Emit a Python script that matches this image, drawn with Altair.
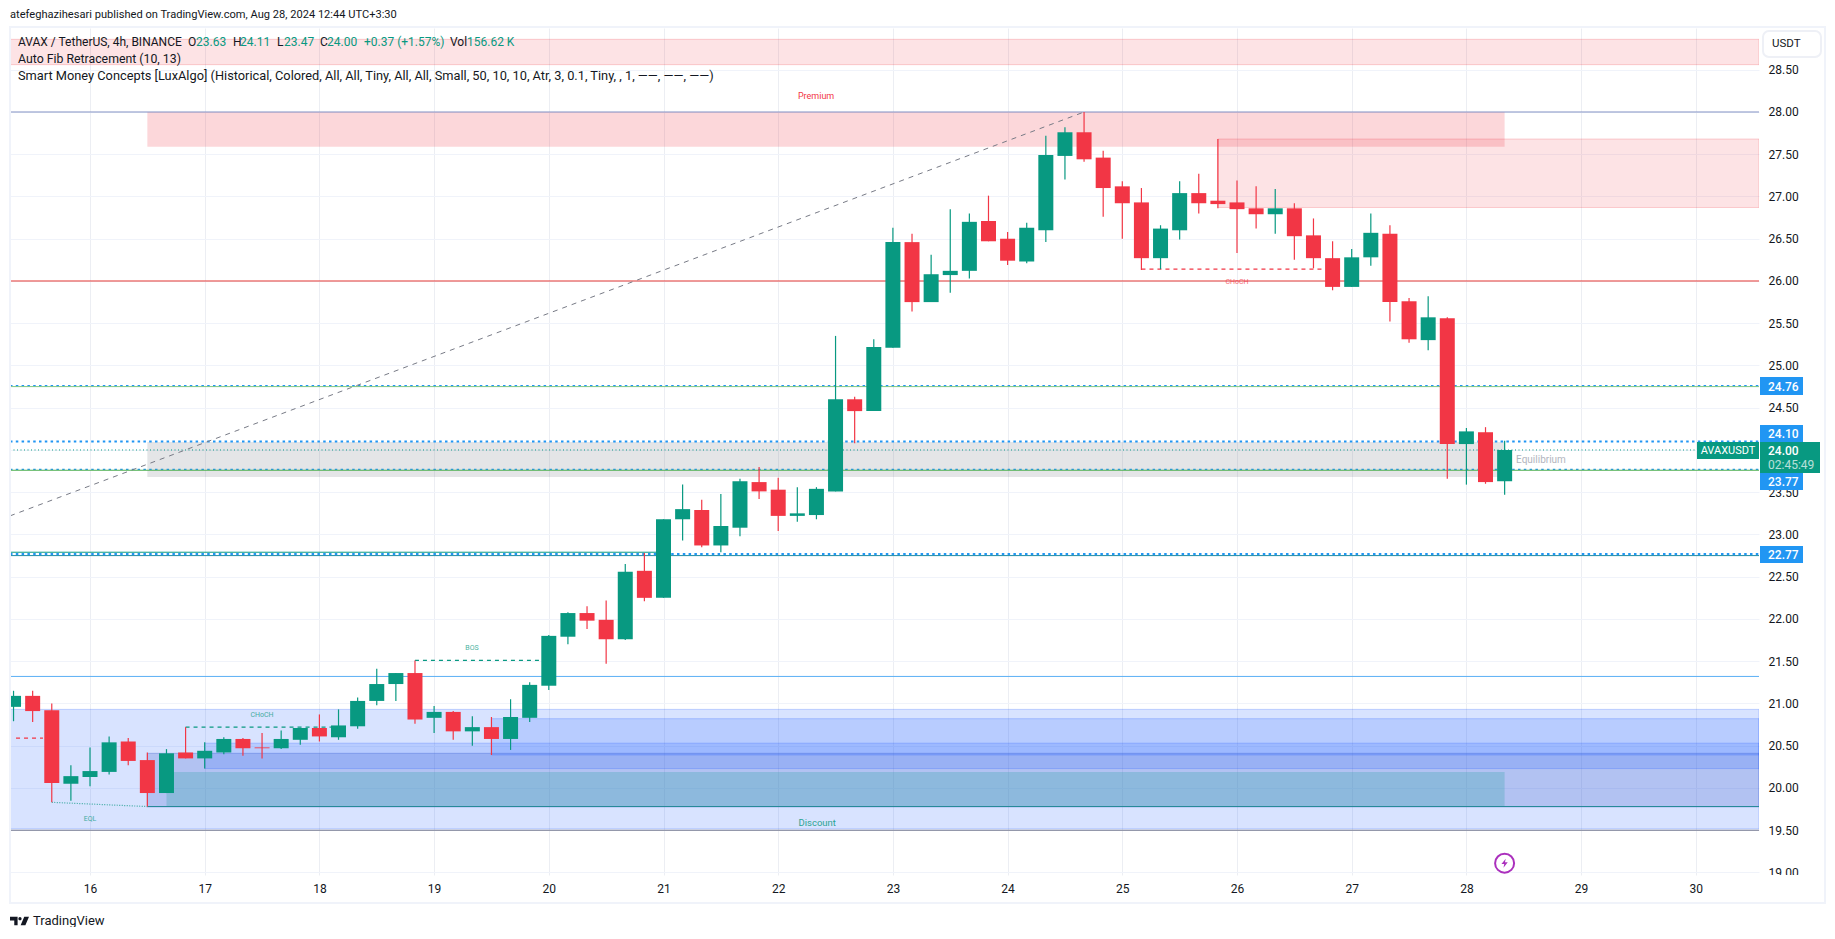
import altair as alt
import pandas as pd

# ---- OHLC (4h bars, first bar at day 15 + 1/3) ----
OPEN = [20.96,21.09,20.92,20.05,20.13,20.19,20.55,20.33,19.94,20.42,20.35,20.42,20.58,20.48,20.47,20.57,20.71,20.60,20.73,21.03,
        21.23,21.36,20.83,20.90,20.67,20.72,20.58,20.83,21.21,21.79,22.07,21.99,21.76,22.57,22.25,23.18,23.29,22.87,23.08,23.62,
        23.53,23.22,23.23,23.51,24.60,24.46,25.21,26.46,25.75,26.07,26.12,26.71,26.50,26.23,26.60,27.48,27.76,27.46,27.12,26.93,
        26.27,26.60,27.04,26.95,26.93,26.86,26.79,26.86,26.54,26.27,25.93,26.28,26.56,25.76,25.30,25.56,24.07,24.21,23.63]
HIGH = [21.15,21.15,21.00,20.27,20.48,20.61,20.59,20.42,20.46,20.72,20.54,20.60,20.59,20.65,20.68,20.71,20.87,20.93,21.07,21.41,
        21.36,21.51,20.97,20.91,20.85,20.84,21.05,21.25,21.81,22.08,22.15,22.22,22.65,22.78,23.18,23.59,23.41,23.48,23.66,23.80,
        23.67,23.56,23.56,25.35,24.63,25.31,26.63,26.56,26.31,26.85,26.80,27.01,26.58,26.69,27.72,27.82,28.00,27.54,27.18,27.10,
        26.66,27.18,27.27,27.68,27.19,27.12,27.09,26.92,26.74,26.47,26.38,26.80,26.66,25.80,25.82,25.57,24.26,24.27,24.11]
LOW = [20.79,20.78,19.83,19.85,20.02,20.16,20.27,19.78,19.94,20.35,20.23,20.40,20.38,20.35,20.46,20.51,20.55,20.57,20.70,20.98,
       21.03,20.76,20.65,20.57,20.50,20.39,20.45,20.78,21.16,21.70,21.88,21.47,21.75,22.21,22.25,22.93,22.85,22.79,22.98,23.42,
       23.04,23.15,23.18,23.51,24.08,24.46,25.21,25.64,25.75,25.86,26.03,26.47,26.19,26.21,26.46,27.20,27.41,26.76,26.50,26.13,
       26.14,26.49,26.80,26.86,26.33,26.62,26.56,26.25,26.15,25.89,25.93,26.18,25.52,25.27,25.18,23.66,23.59,23.60,23.47]
CLOSE = [21.09,20.91,20.06,20.14,20.20,20.54,20.32,19.94,20.41,20.35,20.44,20.58,20.47,20.47,20.58,20.71,20.61,20.74,21.03,21.23,
         21.36,20.81,20.90,20.67,20.72,20.58,20.84,21.22,21.80,22.07,21.98,21.76,22.56,22.25,23.18,23.30,22.87,23.10,23.63,23.51,
         23.22,23.25,23.54,24.60,24.46,25.22,26.46,25.75,26.08,26.12,26.70,26.47,26.24,26.63,27.49,27.76,27.44,27.10,26.92,26.27,
         26.62,27.04,26.92,26.91,26.85,26.79,26.86,26.53,26.27,25.93,26.28,26.57,25.75,25.31,25.57,24.07,24.22,23.62,24.00]
BARS_PER_DAY = 6
FIRST_DAY = 15 + 1 / 3

DAY_TICKS = list(range(16, 31))
PRICE_TICKS = [19 + 0.5 * i for i in range(20)]

X_MIN, X_MAX = 15.3025, 30.551
Y_MIN, Y_MAX = 18.97, 28.994

# zones: day from, day to, price top, price bottom
TOP_BAND = [X_MIN, X_MAX, 28.86, 28.56]
SUPPLY = [25.833, X_MAX, 27.68, 26.87]
PREMIUM = [16.5, 28.333, 28.00, 27.59]
EQUILIBRIUM = [16.5, 28.333, 24.095, 23.68]
DISCOUNT = [X_MIN, X_MAX, 20.93, 19.515]
BLOCK_A = [16.5, X_MAX, 20.41, 19.775]
BLOCK_B = [17.0, X_MAX, 20.53, 20.23]
BLOCK_C = [19.5, X_MAX, 20.82, 20.39]
BLOCK_D = [16.667, 28.333, 20.19, 19.775]

TREND_X = [X_MIN, 24.667]
TREND_Y = [23.22, 28.00]
EQL_X = [15.667, 16.5]
EQL_Y = [19.83, 19.78]

GREEN, RED, BLUE = "#089981", "#f23645", "#2196f3"
TEXT = "#131722"
FONT = "Roboto"

df = pd.DataFrame({"o": OPEN, "h": HIGH, "l": LOW, "c": CLOSE})
df["day"] = [FIRST_DAY + i / BARS_PER_DAY for i in range(len(df))]
df["dir"] = ["up" if c >= o else "down" for o, c in zip(OPEN, CLOSE)]

xs = alt.Scale(domain=[X_MIN, X_MAX], nice=False, zero=False, padding=0)
ys = alt.Scale(domain=[Y_MIN, Y_MAX], nice=False, zero=False, padding=0)
col = alt.Color("dir:N", scale=alt.Scale(domain=["up", "down"], range=[GREEN, RED]), legend=None)

x_axis = alt.Axis(values=DAY_TICKS, format="d", orient="bottom", grid=True, gridColor="#eceef3", gridWidth=1,
                  domain=False, ticks=False, labelFont=FONT, labelFontSize=12, labelColor=TEXT, labelPadding=8,
                  title=None, labelFlush=False, labelOverlap=False)
y_axis = alt.Axis(values=PRICE_TICKS, format=".2f", orient="right", grid=True, gridColor="#f0f3fa", gridWidth=1,
                  domain=False, ticks=False, labelFont=FONT, labelFontSize=12, labelColor=TEXT, labelPadding=9,
                  title=None, labelFlush=False, labelOverlap=False)


def X(f):
    return alt.X(f, type="quantitative", scale=xs, axis=x_axis)


def Y(f):
    return alt.Y(f, type="quantitative", scale=ys, axis=y_axis)


def zone(z, fill, op, stroke=True):
    d = pd.DataFrame({"a": [z[0]], "b": [z[1]], "t": [z[2]], "u": [z[3]]})
    kw = dict(stroke=fill, strokeOpacity=min(op + 0.08, 1), strokeWidth=1) if stroke else {}
    return alt.Chart(d).mark_rect(fill=fill, fillOpacity=op, clip=True, **kw).encode(
        x=X("a"), x2="b", y=Y("t"), y2="u")


def hline(p, a, b, color, width=1.0, dash=None, op=1.0):
    d = pd.DataFrame({"a": [a], "b": [b], "p": [p]})
    kw = {"strokeDash": dash} if dash else {}
    return alt.Chart(d).mark_rule(color=color, strokeWidth=width, opacity=op, clip=True, **kw).encode(
        x=X("a"), x2="b", y=Y("p"))


def seg(xv, yv, color, width, dash):
    d = pd.DataFrame({"x": xv, "y": yv})
    return alt.Chart(d).mark_line(color=color, strokeWidth=width, strokeDash=dash, clip=True).encode(
        x=X("x"), y=Y("y"))


def note(txt, day, price, color, size, op=1.0, align="center"):
    d = pd.DataFrame({"x": [day], "y": [price], "t": [txt]})
    return alt.Chart(d).mark_text(color=color, fontSize=size, font=FONT, align=align, baseline="middle", opacity=op).encode(
        x=X("x"), y=Y("y"), text="t:N")


OX, OY = 10, 28  # page position of the plot area


def pagetext(txt, px, py, color=TEXT, size=12, align="left", weight="normal", op=1.0):
    d = pd.DataFrame({"t": [txt]})
    return alt.Chart(d).mark_text(color=color, fontSize=size, font=FONT, align=align, baseline="middle",
                                  fontWeight=weight, opacity=op).encode(
        x=alt.value(px - OX), y=alt.value(py - OY), text="t:N")


def pagerect(x0, x1, y0, y1, fill, **kw):
    return alt.Chart(pd.DataFrame({"k": [1]})).mark_rect(fill=fill, **kw).encode(
        x=alt.value(x0 - OX), x2=alt.value(x1 - OX), y=alt.value(y0 - OY), y2=alt.value(y1 - OY))


wicks = alt.Chart(df).mark_rule(strokeWidth=1.2, clip=True).encode(x=X("day"), y=Y("l"), y2="h:Q", color=col)
bodies = alt.Chart(df).mark_bar(width=15, clip=True).encode(x=X("day"), y=Y("o"), y2="c", color=col)

layers = [
    zone(TOP_BAND, RED, 0.14),
    zone(SUPPLY, RED, 0.14),
    zone(PREMIUM, RED, 0.2, stroke=False),
    zone(EQUILIBRIUM, "#787b86", 0.2, stroke=False),
    zone(DISCOUNT, "#2962ff", 0.18),
    zone(BLOCK_A, "#3e5fcd", 0.25),
    zone(BLOCK_B, "#2962ff", 0.18),
    zone(BLOCK_C, "#2962ff", 0.18),
    zone(BLOCK_D, "#38a4ab", 0.3, stroke=False),
    hline(28.0, X_MIN, X_MAX, "#8492c4"),
    hline(26.0, X_MIN, X_MAX, "#e53935"),
    hline(24.76, X_MIN, X_MAX, BLUE, 1.4, [2.5, 3.3]),
    hline(24.75, X_MIN, X_MAX, "#81c784"),
    hline(24.10, X_MIN, X_MAX, BLUE, 2, [2.5, 3.3]),
    hline(24.00, X_MIN, X_MAX, GREEN, 1, [1, 2.5]),
    hline(23.77, X_MIN, X_MAX, BLUE, 1.4, [2.5, 3.3]),
    hline(23.76, X_MIN, X_MAX, "#4caf50"),
    hline(22.79, X_MIN, 21.0, GREEN),
    hline(22.75, X_MIN, X_MAX, "#1d8aa5"),
    hline(22.77, X_MIN, X_MAX, BLUE, 2, [2.5, 3.3]),
    hline(21.32, X_MIN, X_MAX, "#5ab0f5"),
    hline(19.5, X_MIN, X_MAX, "#767a90", 1.1),
    hline(19.78, 16.5, X_MAX, "#268a99", 1.1),
    hline(20.59, 15.355, 15.59, RED, 1.2, [4, 4]),
    hline(20.72, 16.833, 18.1, GREEN, 1.2, [4, 4]),
    hline(21.51, 18.833, 19.92, GREEN, 1.2, [4, 4]),
    hline(26.14, 25.167, 26.74, RED, 1.2, [4, 4]),
    seg(TREND_X, TREND_Y, "#787b86", 1, [5, 5]),
    seg(EQL_X, EQL_Y, "#3aa9a0", 1.2, [1, 1.5]),
    wicks,
    bodies,
    note("Premium", 22.33, 28.19, RED, 9),
    note("Discount", 22.34, 19.59, GREEN, 9.5, 0.85),
    note("Equilibrium", 28.65, 23.88, "#b2b5be", 10, 1.0),
    note("EQL", 16.0, 19.63, GREEN, 7, 0.75),
    note("CHoCH", 17.5, 20.86, GREEN, 7, 0.75),
    note("BOS", 19.33, 21.66, GREEN, 7, 0.75),
    note("CHoCH", 26.0, 25.99, RED, 7, 0.75),
]

# lightning marker
mark_df = pd.DataFrame({"x": [28.333], "y": [19.11]})
layers.append(alt.Chart(mark_df).mark_point(shape="circle", filled=False, color="#ab30bd", strokeWidth=2, size=361, opacity=1)
              .encode(x=X("x"), y=Y("y")))
layers.append(alt.Chart(mark_df).mark_point(shape="M0.25,-1 L-0.7,0.2 L-0.08,0.2 L-0.25,1 L0.7,-0.2 L0.08,-0.2 Z",
                                            filled=True, color="#ab30bd", size=81, opacity=1, strokeWidth=0)
              .encode(x=X("x"), y=Y("y")))

# cover for the clipped bottom axis label
layers.append(pagerect(1760, 1800, 875, 882, "#ffffff"))

# price scale tags
for txt, y0, y1 in [("24.76", 377, 395), ("24.10", 425, 442), ("23.77", 473, 490), ("22.77", 546, 563)]:
    layers.append(pagerect(1760, 1803, y0, y1, BLUE))
    layers.append(pagetext(txt, 1768, (y0 + y1) / 2 + 0.5, "#ffffff", 12, weight=500))
layers.append(pagerect(1760, 1820, 442, 473, GREEN))
layers.append(pagetext("24.00", 1768, 451, "#ffffff", 12, weight=500))
layers.append(pagetext("02:45:49", 1768, 465, "#ffffff", 12, op=0.7))
layers.append(pagerect(1697, 1759, 442, 459, GREEN))
layers.append(pagetext("AVAXUSDT", 1728, 450.5, "#ffffff", 11, align="center"))

# currency button
layers.append(pagerect(1763, 1821, 31, 57, "#ffffff", stroke="#eef0f6", strokeWidth=2, cornerRadius=6))
layers.append(pagetext("USDT", 1772, 44, TEXT, 11.5))

# frame
layers.append(pagerect(10, 1825, 27, 903, "transparent", stroke="#f0f3fa", strokeWidth=2))

# headers
layers.append(pagetext("atefeghazihesari published on TradingView.com, Aug 28, 2024 12:44 UTC+3:30", 10, 15, TEXT, 11.1))
for txt, px, color in [
    ("AVAX / TetherUS, 4h, BINANCE", 18, TEXT), ("O", 188, TEXT), ("23.63", 196, GREEN), ("H", 233, TEXT),
    ("24.11", 240, GREEN), ("L", 277, TEXT), ("23.47", 284, GREEN), ("C", 320, TEXT), ("24.00", 327, GREEN),
    ("+0.37 (+1.57%)", 364, GREEN), ("Vol", 450, TEXT), ("156.62 K", 467, GREEN),
]:
    layers.append(pagetext(txt, px, 42, color, 12))
layers.append(pagetext("Auto Fib Retracement (10, 13)", 18, 59, TEXT, 12.3))
layers.append(pagetext("Smart Money Concepts [LuxAlgo] (Historical, Colored, All, All, Tiny, All, All, Small, 50, 10, 10, Atr, 3, 0.1, Tiny, , 1, \u2014\u2014, \u2014\u2014, \u2014\u2014)", 18, 76, TEXT, 12.8))

# logo
logo = ("M-1,-0.45 L-0.2,-0.45 L-0.2,0.45 L-0.55,0.45 L-0.55,-0.05 L-1,-0.05 Z "
        "M-0.12,-0.25 A0.17,0.17 0 1 1 0.22,-0.25 A0.17,0.17 0 1 1 -0.12,-0.25 Z "
        "M0.5,-0.45 L1,-0.45 L0.62,0.45 L0.12,0.45 Z")
layers.append(alt.Chart(pd.DataFrame({"k": [1]})).mark_point(shape=logo, filled=True, color=TEXT, size=361, opacity=1, strokeWidth=0)
              .encode(x=alt.value(19.5 - OX), y=alt.value(921 - OY)))
layers.append(pagetext("TradingView", 33, 921, TEXT, 13))

chart = alt.layer(*layers).properties(
    width=1749, height=847,
    padding={"left": 2, "top": 20, "right": 67, "bottom": 52},
    autosize=alt.AutoSizeParams(type="none"),
    background="#ffffff",
).configure_view(stroke=None)

chart.save("out.html", embed_options={"renderer": "svg", "actions": False})
